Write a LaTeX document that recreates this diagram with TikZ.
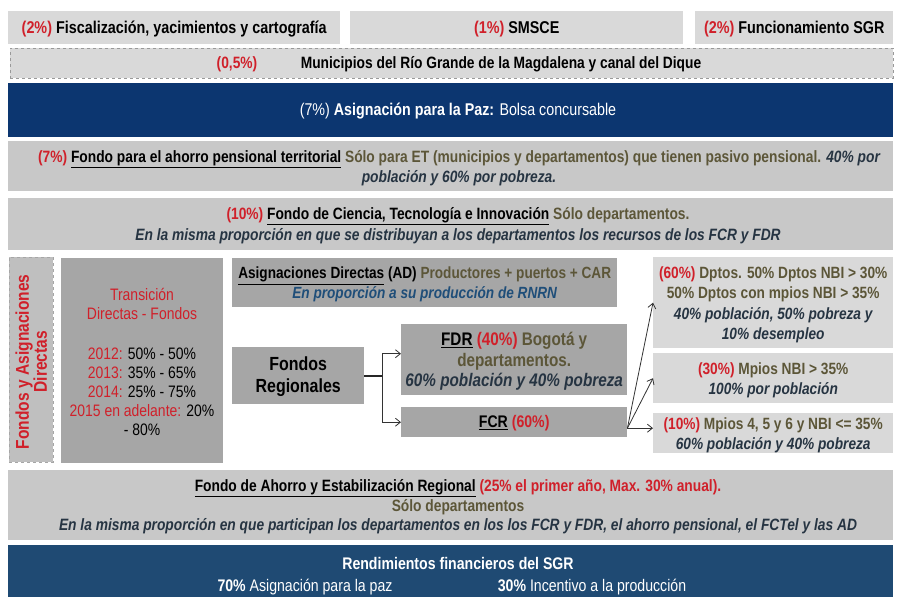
\documentclass[tikz,border=0pt]{standalone}
\usepackage{fontspec}
\setmainfont{Liberation Sans}[FakeStretch=0.84]
\usetikzlibrary{arrows.meta}
\definecolor{cred}{RGB}{208,32,42}
\definecolor{colive}{RGB}{92,86,56}
\definecolor{cslate}{RGB}{38,52,66}
\definecolor{cblueit}{RGB}{31,78,121}
\definecolor{lgray}{RGB}{217,217,217}
\definecolor{mgray}{RGB}{200,200,200}
\definecolor{dgray}{RGB}{166,166,166}
\definecolor{lbox}{RGB}{191,191,191}
\definecolor{navy}{RGB}{12,54,112}
\definecolor{navyb}{RGB}{31,74,115}
\newcommand\rd[1]{\textcolor{cred}{#1}}
\newcommand\olv[1]{\textcolor{colive}{#1}}
\newcommand\itk[1]{\textcolor{cslate}{\itshape #1}}
\newcommand\itb[1]{\textcolor{cblueit}{\itshape #1}}
\begin{document}
\begin{tikzpicture}[x=1pt,y=-1pt,
  box/.style={inner sep=0pt, anchor=north west, align=center},
  txt/.style={inner sep=0pt, align=center, font=\fontsize{16.4}{19.5}\selectfont\bfseries},
  arr/.style={draw=black!80, line width=0.8pt, -{Straight Barb[length=5pt,width=8pt]}}]
\useasboundingbox (0,0) rectangle (898,597);
\fill[white] (0,0) rectangle (898,597);

% Row 1
\node[box, fill=lgray, minimum width=332pt, minimum height=33pt] (fis) at (8,11) {};
\node[txt, font=\fontsize{17.1}{19}\selectfont\bfseries] (fistxt) at ([yshift=-1pt]fis.center) {\rd{(2\%)} Fiscalización, yacimientos y cartografía};
\node[box, fill=lgray, minimum width=333pt, minimum height=33pt] (smsce) at (350,11) {};
\node[txt, font=\fontsize{17.1}{19}\selectfont\bfseries] (smscetxt) at ([yshift=-1pt]smsce.center) {\rd{(1\%)} SMSCE};
\node[box, fill=lgray, minimum width=198pt, minimum height=33pt] (func) at (695,11) {};
\node[txt, font=\fontsize{17.1}{19}\selectfont\bfseries] (functxt) at ([yshift=-1pt]func.center) {\rd{(2\%)} Funcionamiento SGR};

% Row 2
\node[box, fill=lgray, draw=black!40, dashed, line width=0.6pt, minimum width=883pt, minimum height=30pt] (mun) at (10,48) {};
\node[txt] (mun05) at (237,64) {\rd{(0,5\%)}};
\node[txt] (muntxt) at (501,64) {Municipios del Río Grande de la Magdalena y canal del Dique};

% Row 3
\node[box, fill=navy, minimum width=885pt, minimum height=54pt] (paz) at (8,83) {};
\node[txt, text=white, font=\fontsize{17}{18}\selectfont] (paztxt) at (458,111) {(7\%) \textbf{Asignación para la Paz:} Bolsa concursable};

% Row 4
\node[box, fill=mgray, minimum width=885pt, minimum height=50pt] (fonpet) at (8,141) {};
\node[txt] (fonpettxt) at (459,168) {\rd{(7\%)} \underline{Fondo para el ahorro pensional territorial} \olv{Sólo para ET (municipios y departamentos) que tienen pasivo pensional.} \itk{40\% por}\\ \itk{población y 60\% por pobreza.}};

% Row 5
\node[box, fill=mgray, minimum width=885pt, minimum height=52pt] (fctei) at (8,198) {};
\node[txt, font=\fontsize{16.4}{21}\selectfont\bfseries] (fcteitxt) at (458,226) {\rd{(10\%)} \underline{Fondo de Ciencia, Tecnología e Innovación} \olv{Sólo departamentos.}\\ \itk{En la misma proporción en que se distribuyan a los departamentos los recursos de los FCR y FDR}};

% Left vertical box
\node[box, fill=lbox, draw=black!35, dashed, line width=0.6pt, minimum width=44pt, minimum height=205pt] (fad) at (9,257) {};
\node[txt, rotate=90, text=cred, font=\fontsize{18.5}{18}\selectfont\bfseries] (fadtxt) at ([yshift=-2pt]fad.center) {Fondos y Asignaciones\\Directas};

% Transition box
\node[box, fill=dgray, minimum width=162pt, minimum height=205pt] (trans) at (61,258) {};
\node[txt, font=\fontsize{16.6}{19}\selectfont] (transtxt) at (142,362) {\rd{Transición}\\ \rd{Directas - Fondos}\\[21pt] \rd{2012:} 50\% - 50\%\\ \rd{2013:} 35\% - 65\%\\ \rd{2014:} 25\% - 75\%\\ \rd{2015 en adelante:} 20\%\\ - 80\%};

% Asignaciones directas
\node[box, fill=dgray, minimum width=385pt, minimum height=49pt] (ad) at (232,258) {};
\node[txt, font=\fontsize{16.2}{20}\selectfont\bfseries] (adtxt) at ([yshift=-2pt]ad.center) {\underline{Asignaciones Directas} (AD) \olv{Productores + puertos + CAR}\\ \itb{En proporción a su producción de RNRN}};

% Fondos regionales
\node[box, fill=dgray, minimum width=132pt, minimum height=57pt] (fr) at (232,347) {};
\node[txt, font=\fontsize{19}{22}\selectfont\bfseries] (frtxt) at ([yshift=-1pt]fr.center) {Fondos\\Regionales};

\node[box, fill=dgray, minimum width=226pt, minimum height=71pt] (fdr) at (401,324) {};
\node[txt, font=\fontsize{18.2}{20.5}\selectfont\bfseries] (fdrtxt) at ([yshift=-2pt]fdr.center) {\underline{FDR} \rd{(40\%)} \olv{Bogotá y}\\ \olv{departamentos.}\\ \itk{60\% población y 40\% pobreza}};

\node[box, fill=dgray, minimum width=226pt, minimum height=30pt] (fcr) at (401,407) {};
\node[txt, font=\fontsize{16.8}{19}\selectfont\bfseries] (fcrtxt) at ([yshift=-1pt]fcr.center) {\underline{FCR} \rd{(60\%)}};

% Right boxes
\node[box, fill=lgray, minimum width=240pt, minimum height=91pt] (ra) at (653,257) {};
\node[txt, font=\fontsize{16.3}{20.3}\selectfont\bfseries] (ratxt) at ([yshift=-2pt]ra.center) {\rd{(60\%)} \olv{Dptos. 50\% Dptos NBI > 30\%}\\ \olv{50\% Dptos con mpios NBI > 35\%}\\ \itk{40\% población, 50\% pobreza y}\\ \itk{10\% desempleo}};
\node[box, fill=lgray, minimum width=240pt, minimum height=50pt] (rb) at (653,353) {};
\node[txt, font=\fontsize{16.3}{19.5}\selectfont\bfseries] (rbtxt) at ([yshift=-2pt]rb.center) {\rd{(30\%)} \olv{Mpios NBI > 35\%}\\ \itk{100\% por población}};
\node[box, fill=lgray, minimum width=240pt, minimum height=40pt] (rc) at (653,413) {};
\node[txt, font=\fontsize{16.3}{19.5}\selectfont\bfseries] (rctxt) at ([yshift=-2pt]rc.center) {\rd{(10\%)} \olv{Mpios 4, 5 y 6 y NBI <= 35\%}\\ \itk{60\% población y 40\% pobreza}};

% connectors
\coordinate (fork) at (382,376);
\draw[black!85, line width=1.8pt] (fr.east |- fork) -- (fork);
\draw[arr] (fork) |- ([yshift=6pt]fdr.west);
\draw[arr] (fork) |- (fcr.west);
\coordinate (fcrout) at ([yshift=-6pt]fcr.east);
\draw[arr] (fcrout) -- (ra.west);
\draw[arr] (fcrout) -- (rb.west);
\draw[arr] (fcrout) -- ([yshift=5pt]rc.west);

% FAE
\node[box, fill=mgray, minimum width=885pt, minimum height=70pt] (fae) at (8,470) {};
\node[txt] (faetxt) at (458,507) {\underline{Fondo de Ahorro y Estabilización Regional} \rd{(25\% el primer año, Max. 30\% anual).}\\ \olv{Sólo departamentos}\\ \itk{En la misma proporción en que participan los departamentos en los los FCR y FDR, el ahorro pensional, el FCTel y las AD}};

% Rendimientos
\node[box, fill=navyb, minimum width=885pt, minimum height=52pt] (rend) at (8,545) {};
\node[txt, text=white, font=\fontsize{16.8}{18}\selectfont\bfseries] (rendtit) at (458,563) {Rendimientos financieros del SGR};
\node[txt, text=white, font=\fontsize{16.8}{18}\selectfont] (rend70) at (305,587) {\textbf{70\%} Asignación para la paz};
\node[txt, text=white, font=\fontsize{16.8}{18}\selectfont] (rend30) at (592,587) {\textbf{30\%} Incentivo a la producción};
\end{tikzpicture}
\end{document}
